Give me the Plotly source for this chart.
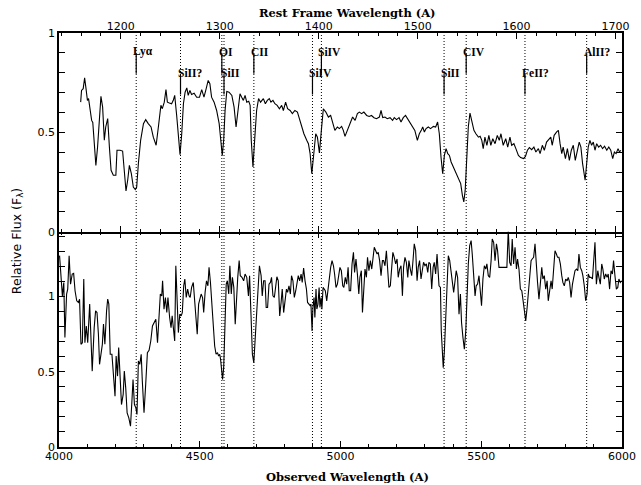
import plotly.graph_objects as go

# redshift used for rest-frame axis
Z = 2.516

top_wave = [4077,4080,4086,4091,4096,4101,4105,4110,4116,4120,4125,4131,4137,4143,4149,4155,4161,4166,4173,4179,
            4185,4193,4202,4206,4217,4226,4231,4238,4244,4250,4257,4264,4271,4276,4282,4290,4300,4308,4317,4327,
            4335,4345,4353,4362,4367,4374,4380,4385,4392,4400,4406,4411,4418,4424,4430,4436,4442,4448,4454,4459,
            4465,4471,4480,4489,4499,4507,4515,4522,4530,4536,4542,4551,4560,4569,4575,4580,4585,4590,4596,4604,
            4614,4622,4629,4635,4643,4649,4655,4661,4667,4674,4679,4683,4689,4695,4702,4709,4716,4726,4733,4740,
            4747,4753,4760,4767,4775,4783,4791,4797,4805,4812,4821,4829,4838,4847,4854,4862,4870,4880,4886,4892,
            4898,4904,4912,4918,4925,4932,4939,4948,4957,4965,4972,4980,4989,4996,5004,5010,5016,5024,5034,5043,
            5052,5060,5067,5075,5083,5093,5102,5110,5119,5128,5138,5144,5150,5158,5166,5176,5185,5191,5199,5208,
            5215,5223,5231,5238,5247,5256,5264,5273,5280,5287,5292,5298,5304,5312,5320,5330,5338,5345,5351,5357,
            5363,5369,5375,5381,5387,5393,5401,5410,5418,5427,5433,5438,5443,5448,5454,5460,5467,5474,5481,5490,
            5496,5502,5507,5513,5520,5527,5534,5541,5549,5557,5564,5570,5578,5587,5594,5602,5608,5616,5623,5632,
            5640,5650,5657,5664,5671,5679,5687,5694,5703,5709,5717,5724,5732,5741,5747,5752,5759,5768,5774,5780,
            5786,5791,5799,5806,5813,5820,5827,5834,5841,5848,5854,5860,5869,5875,5880,5886,5892,5898,5904,5910,
            5917,5924,5931,5938,5946,5953,5960,5967,5973,5979,5986,5991,5996]
top_flux = [.652,.711,.72,.775,.72,.66,.67,.61,.56,.55,.443,.334,.426,.577,.681,.627,.46,.527,.569,.426,
            .309,.284,.284,.41,.41,.406,.309,.205,.259,.334,.292,.225,.212,.225,.343,.46,.544,.564,.544,.527,
            .476,.435,.527,.636,.619,.652,.715,.652,.648,.644,.661,.686,.585,.476,.388,.493,.644,.702,.724,.686,
            .711,.691,.697,.677,.677,.715,.677,.715,.761,.745,.677,.652,.61,.544,.46,.384,.46,.61,.706,.702,
            .686,.627,.527,.61,.694,.677,.661,.686,.652,.657,.636,.46,.326,.46,.61,.67,.652,.67,.644,.661,
            .67,.652,.661,.644,.636,.619,.636,.61,.652,.619,.61,.594,.61,.602,.569,.527,.493,.46,.443,.393,
            .292,.376,.493,.476,.396,.51,.619,.602,.577,.585,.544,.51,.527,.519,.53,.51,.48,.51,.552,.577,
            .56,.594,.602,.594,.602,.585,.58,.585,.574,.569,.577,.61,.574,.577,.569,.574,.56,.574,.564,.574,
            .552,.574,.585,.569,.552,.535,.51,.46,.493,.51,.527,.502,.519,.527,.519,.53,.527,.552,.493,.376,
            .292,.384,.418,.393,.384,.351,.326,.301,.275,.242,.183,.15,.209,.343,.527,.597,.56,.51,.493,.476,
            .48,.46,.418,.476,.435,.485,.435,.468,.443,.485,.46,.493,.435,.468,.426,.476,.435,.443,.418,.384,
            .373,.368,.379,.41,.423,.413,.426,.401,.418,.393,.435,.41,.451,.468,.476,.435,.485,.502,.51,.443,
            .393,.426,.368,.418,.359,.41,.435,.359,.401,.451,.426,.343,.259,.351,.426,.46,.435,.451,.41,.443,
            .426,.435,.418,.43,.41,.426,.41,.368,.401,.393,.418,.401,.41]

bot_wave = [4002,4007,4012,4017,4021,4027,4031,4036,4041,4047,4052,4057,4063,4069,4073,4078,4083,4088,4092,4097,
            4102,4109,4114,4118,4125,4130,4135,4140,4144,4149,4154,4158,4163,4169,4173,4177,4182,4188,4193,4199,
            4203,4208,4212,4217,4222,4228,4232,4237,4242,4248,4254,4259,4263,4268,4273,4277,4282,4287,4292,4296,
            4302,4308,4314,4320,4326,4332,4338,4344,4350,4355,4360,4365,4368,4373,4378,4383,4387,4393,4398,4402,
            4407,4411,4415,4420,4424,4429,4434,4438,4443,4447,4452,4457,4462,4466,4471,4477,4482,4486,4491,4496,
            4500,4505,4510,4514,4519,4524,4529,4533,4538,4543,4549,4553,4558,4563,4567,4571,4574,4578,4581,4585,
            4590,4594,4598,4603,4607,4612,4616,4621,4626,4630,4635,4640,4644,4650,4656,
            4661,4667,4673,4677,4682,4687,4692,4696,4702,4706,4712,4718,4722,4727,4732,4736,4741,4746,4751,4755,
            4760,4765,4770,4774,4779,4784,4789,4793,4798,4803,4808,4812,4817,4822,4826,4831,4836,4841,4845,4850,
            4855,4860,4864,4869,4874,4879,4883,4888,4893,4895,4899,4902,4906,4909,4913,4916,4920,4924,4927,4931,
            4934,4938,4941,4946,4951,4956,4960,4965,4970,4975,4979,4984,4989,4993,4998,5003,5008,5012,5017,5022,
            5027,5031,5036,5041,5046,5050,5055,5060,5065,5069,5074,5078,5082,5087,5092,5096,5101,5106,5111,5115,
            5120,5125,5130,5134,5139,5144,5149,5153,5158,5163,5167,5172,5177,5182,5186,5191,5196,5201,5205,5210,
            5215,5220,5224,5229,5234,5239,5243,5248,5253,5258,5262,5267,5272,5276,5281,5286,5291,5295,5300,5305,
            5310,5314,5319,5324,5329,5333,5338,5343,
            5350,5355,5358,5362,5365,5369,5374,5378,5383,5388,5393,5397,5402,5407,5411,5416,5421,5426,5430,5435,
            5440,5445,5449,5454,5459,5464,5468,5473,5478,5482,5487,5492,5497,5501,5506,5511,5516,5520,5525,5530,
            5535,5539,5544,5549,5554,5558,5563,5568,5573,5578,5587,5591,5596,5601,5606,5610,5615,5620,5625,5629,
            5634,5639,5644,5648,5653,5658,5663,5667,5672,5677,5681,5686,5691,5696,5700,5705,5710,5715,5719,5724,
            5729,5734,5738,5743,5748,5752,5757,5762,5767,5771,5776,5781,5786,5790,5795,5800,5805,5809,5814,5819,
            5824,5828,5833,5838,5843,5847,5852,5857,5861,5866,5871,5876,5880,5885,5890,5895,5899,5904,5909,5914,
            5918,5923,5928,5932,5937,5942,5947,5951,5956,5961,5966,5970,5975,5980,5985,5989,5994,5999]
bot_flux = [1.271,1.104,1.004,1.093,.727,1.016,1.049,1.271,1.082,1.149,1.153,1.038,.971,.96,.982,.682,.693,1.116,.693,.804,
            .693,.949,.727,.504,.793,.904,.893,.749,.549,.604,.682,.816,.682,.904,.982,.949,.616,.616,.482,.338,
            .604,.471,.66,.46,.282,.349,.504,.393,.227,.193,.138,.304,.449,.282,.26,.216,.571,.549,.616,.438,
            .227,.416,.627,.642,.704,.804,.827,.849,.693,.893,1.016,1.004,1.104,.916,.993,.893,.993,.86,.793,.871,
            .793,.704,1.204,.927,.76,.882,.871,.893,1.071,1.116,.993,1.049,1.004,.993,1.06,1.093,.949,.882,.749,.949,
            .982,1.016,.993,.893,1.027,1.104,1.071,1.193,1.093,.927,.749,.671,.616,.627,.604,.616,.582,.504,.449,.527,
            .882,1.082,1.104,1.016,1.204,1.016,1.127,1.06,.816,.993,1.127,1.238,1.138,1.127,1.104,
            1.149,1.127,1.004,1.138,.882,.616,.56,.682,.904,1.027,1.204,1.138,1.004,1.104,1.104,.927,.927,1.082,1.093,1.127,
            1.004,.993,1.093,1.131,1.104,.871,.96,1.049,.893,.993,1.049,1.027,1.071,1.016,1.138,1.104,.993,1.038,1.093,1.138,
            1.104,1.149,1.093,1.189,1.104,1.049,.96,.949,.938,.949,.771,.927,.993,.86,1.049,.916,.949,1.06,.927,.993,
            .916,1.06,1.049,1.038,.971,1.06,1.127,1.193,1.238,1.204,1.149,1.06,1.082,1.149,1.193,1.171,1.071,1.06,1.127,1.082,
            1.193,1.038,1.038,1.216,1.293,1.16,1.249,1.149,1.016,1.127,1.171,.893,1.049,1.182,1.127,1.26,1.171,1.238,1.182,1.238,
            1.327,1.304,1.282,1.293,1.238,1.138,1.238,1.238,1.204,1.304,1.193,1.06,1.071,1.216,1.293,1.26,1.216,1.249,1.127,1.182,
            1.204,1.004,1.193,1.26,1.227,1.127,1.238,1.182,1.138,1.249,1.349,1.304,1.104,1.193,1.238,1.116,1.204,1.227,1.204,1.216,
            1.16,1.227,1.216,1.049,1.193,1.227,1.149,1.282,
            1.071,1.06,.771,.616,.527,.638,.882,1.127,1.271,1.238,1.171,1.082,1.027,1.104,1.171,1.127,.882,1.016,.827,.727,
            .649,.771,.971,1.216,1.338,1.371,1.282,1.149,1.004,1.071,1.082,1.138,1.038,.938,1.116,1.204,1.182,1.216,1.138,1.127,
            1.238,1.382,1.36,1.238,1.349,1.304,1.193,1.193,1.189,1.189,1.189,1.193,1.44,1.227,1.204,1.382,1.216,1.327,1.182,1.249,
            1.182,1.049,1.038,.982,.904,.838,.927,1.004,1.104,1.238,1.249,1.26,1.349,1.171,1.093,.982,1.093,1.193,1.116,1.138,
            1.049,1.104,.971,1.06,1.104,1.049,1.193,1.304,1.282,1.26,1.26,1.216,1.138,1.093,1.071,1.116,1.104,1.127,1.093,.993,
            1.082,1.127,1.171,1.182,1.171,1.282,1.193,1.171,1.138,1.071,.971,1.016,1.149,1.127,1.127,1.116,1.227,1.36,1.082,1.171,
            1.127,1.082,1.216,1.182,1.116,1.149,1.127,1.149,1.049,1.171,1.149,1.238,1.138,1.049,1.06,1.116,1.093,1.104]

line_names = ["Lyα", "SiII?", "OI", "SiII", "CII", "SiIV", "SiIV", "SiII", "CIV", "FeII?", "AlII?"]
line_rest = [1215.67, 1260.42, 1302.17, 1304.37, 1334.53, 1393.76, 1402.77, 1526.71, 1549.06, 1608.45, 1670.79]
line_row = [0, 1, 0, 1, 0, 1, 0, 1, 0, 1, 0]   # 0 = upper label row, 1 = lower label row

obs_range = [4000, 6000]
rest_range = [obs_range[0] / (1 + Z), obs_range[1] / (1 + Z)]
bot_yrange = [0, 1.43]
top_yrange = [0, 1]

SANS = "DejaVu Sans"
SERIF = "DejaVu Serif"
LBL = "Liberation Serif"

fig = go.Figure()
fig.add_trace(go.Scatter(x=bot_wave, y=bot_flux, mode="lines", xaxis="x", yaxis="y",
                         line=dict(color="black", width=1.1), hoverinfo="skip"))
fig.add_trace(go.Scatter(x=top_wave, y=top_flux, mode="lines", xaxis="x2", yaxis="y2",
                         line=dict(color="black", width=1.1), hoverinfo="skip"))

tickstyle = dict(ticks="inside", ticklen=6, tickwidth=1, tickcolor="black",
                 showline=True, linecolor="black", linewidth=1.5,
                 showgrid=False, zeroline=False, automargin=False,
                 tickfont=dict(family=SANS, size=11, color="black"))
minor_x = dict(dtick=100, ticklen=3, ticks="inside", tickcolor="black")
minor_rest = dict(dtick=20, ticklen=3, ticks="inside", tickcolor="black")
minor_y = dict(dtick=0.1, ticklen=3, ticks="inside", tickcolor="black")

fig.update_layout(
    template="none",
    width=641, height=485, autosize=False,
    margin=dict(l=59, r=19, t=33, b=38),
    paper_bgcolor="white", plot_bgcolor="white",
    font=dict(family=SANS, color="black"),
    showlegend=False,
    xaxis=dict(domain=[0, 1], range=obs_range, anchor="y", side="bottom",
               tick0=4000, dtick=500, minor=minor_x, ticklabelstandoff=-2, **tickstyle),
    xaxis2=dict(domain=[0, 1], range=obs_range, anchor="y2", matches="x", automargin=False,
                showticklabels=False, ticks="", showline=False, showgrid=False, zeroline=False),
    xaxis3=dict(range=rest_range, anchor="y2", overlaying="x2", side="top",
                tick0=1200, dtick=100, mirror="allticks", minor=minor_rest,
                ticklabelstandoff=-3, **tickstyle),
    xaxis4=dict(range=rest_range, anchor="y", overlaying="x", side="top",
                tick0=1200, dtick=100, showticklabels=False, minor=minor_rest,
                **{**tickstyle, "showline": False}),
    yaxis=dict(domain=[0, 0.52], range=bot_yrange, anchor="x", tick0=0, dtick=0.5, mirror="allticks",
               minor=minor_y, **tickstyle),
    yaxis2=dict(domain=[0.52, 1], range=top_yrange, anchor="x2", tick0=0, dtick=0.5, mirror="allticks",
                minor=minor_y, **tickstyle),
)

# invisible traces so the rest-frame axes are drawn
fig.add_trace(go.Scatter(x=rest_range, y=[0, 0], xaxis="x3", yaxis="y2", mode="lines",
                         line=dict(width=0, color="rgba(0,0,0,0)"), hoverinfo="skip"))
fig.add_trace(go.Scatter(x=rest_range, y=[0, 0], xaxis="x4", yaxis="y", mode="lines",
                         line=dict(width=0, color="rgba(0,0,0,0)"), hoverinfo="skip"))

label_y = [0.905, 0.80]
for name, rest, row in zip(line_names, line_rest, line_row):
    xo = rest * (1 + Z)
    fig.add_shape(type="line", xref="x", yref="paper", x0=xo, x1=xo, y0=0, y1=1,
                  line=dict(color="black", width=1, dash="1px,2px"), layer="below")
    fig.add_shape(type="line", xref="x2", yref="y2", x0=xo, x1=xo,
                  y0=label_y[row] - 0.01, y1=label_y[row] - 0.11,
                  line=dict(color="black", width=1.2))
    fig.add_annotation(xref="x2", yref="y2", x=xo, y=label_y[row], text=name, showarrow=False,
                       xanchor="left", yanchor="middle", xshift=-5,
                       font=dict(family=LBL, size=11.5, color="black", weight="bold"))

fig.add_annotation(xref="paper", yref="paper", x=0.513, y=1, yshift=20, text="Rest Frame Wavelength (A)",
                   showarrow=False, xanchor="center", yanchor="middle",
                   font=dict(family=SERIF, size=11.5, color="black", weight="bold"))
fig.add_annotation(xref="paper", yref="paper", x=0.513, y=0, yshift=-30, text="Observed Wavelength (A)",
                   showarrow=False, xanchor="center", yanchor="middle",
                   font=dict(family=SERIF, size=11.5, color="black", weight="bold"))
fig.add_annotation(xref="paper", yref="paper", x=0, xshift=-42, y=0.497, text="Relative Flux (F<sub>λ</sub>)",
                   showarrow=False, xanchor="center", yanchor="middle", textangle=-90,
                   font=dict(family=SANS, size=12.5, color="black"))

fig.write_html("out.html",
               config={"displayModeBar": False, "responsive": False},
               post_script="document.body.style.margin='0';document.body.style.overflow='hidden';")
